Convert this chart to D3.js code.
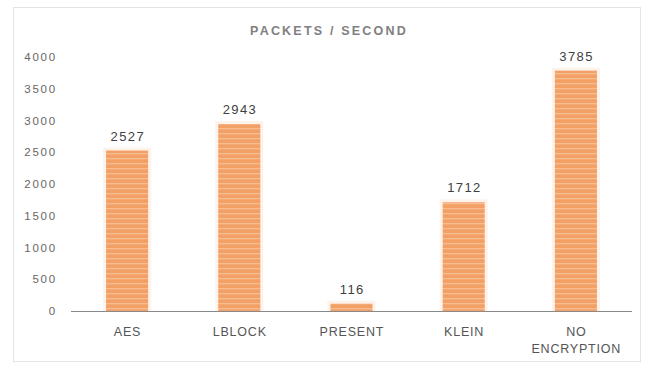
<!DOCTYPE html>
<html><head><meta charset="utf-8">
<script src="https://cdn.jsdelivr.net/npm/d3@7"></script>
<style>body{margin:0;background:#fff}svg{display:block}</style>
</head><body>
<script>
const categories = ["AES", "LBLOCK", "PRESENT", "KLEIN", "NO ENCRYPTION"];
const values = [2527, 2943, 116, 1712, 3785];
const yTicks = [0, 500, 1000, 1500, 2000, 2500, 3000, 3500, 4000];
const title = "PACKETS / SECOND";

const W = 652, H = 365;
const FONT = "Liberation Sans, Arial, sans-serif";
const svg = d3.select("body").append("svg").attr("width", W).attr("height", H);
const defs = svg.append("defs");
const pat = defs.append("pattern").attr("id", "stripes").attr("patternUnits", "userSpaceOnUse")
  .attr("width", 8).attr("height", 5);
pat.append("rect").attr("width", 8).attr("height", 5).attr("fill", "#F3A066");
pat.append("rect").attr("y", 3).attr("width", 8).attr("height", 1.3).attr("fill", "#F7BD92");

svg.append("rect").attr("x", 13.5).attr("y", 7.5).attr("width", 627).attr("height", 354)
  .attr("fill", "#fff").attr("stroke", "#e3e3e3");

const x = d3.scaleBand().domain(categories).range([71, 632]).paddingInner(0.625).paddingOuter(0.3125);
const y = d3.scaleLinear().domain([0, 4000]).range([311, 57]);

svg.append("text").attr("x", 329).attr("y", 35).attr("text-anchor", "middle")
  .attr("font-family", FONT).attr("font-size", 12.5).attr("font-weight", "bold")
  .attr("letter-spacing", 2.2).attr("fill", "#808080").text(title);

const yAxis = svg.append("g").attr("transform", "translate(57,0)")
  .call(d3.axisLeft(y).tickValues(yTicks).tickSize(0).tickPadding(0).tickFormat(d3.format("d")));
yAxis.select(".domain").remove();
yAxis.selectAll("text").attr("font-family", FONT).attr("font-size", 11.5)
  .attr("letter-spacing", 1.8).attr("fill", "#666666");

// halo
svg.append("g").selectAll("rect").data(values).join("rect")
  .attr("x", (d, i) => x(categories[i]) - 3).attr("y", d => y(d) - 3)
  .attr("width", x.bandwidth() + 6).attr("height", d => y(0) - y(d) + 3)
  .attr("fill", "#FDEBDD").attr("opacity", 0.6);

svg.append("g").selectAll("rect").data(values).join("rect")
  .attr("x", (d, i) => x(categories[i])).attr("y", d => y(d))
  .attr("width", x.bandwidth()).attr("height", d => y(0) - y(d))
  .attr("fill", "url(#stripes)");

svg.append("line").attr("x1", 71).attr("x2", 632).attr("y1", y(0) + 0.5).attr("y2", y(0) + 0.5)
  .attr("stroke", "#8a8a8a").attr("stroke-width", 1);

svg.append("g").selectAll("text").data(values).join("text")
  .attr("x", (d, i) => x(categories[i]) + x.bandwidth() / 2 + 0.7).attr("y", d => y(d) - 10)
  .attr("text-anchor", "middle").attr("font-family", FONT)
  .attr("font-size", 13).attr("letter-spacing", 1.4).attr("fill", "#404040").text(d => d);

const xAxis = svg.append("g").attr("transform", `translate(0,${y(0)})`)
  .call(d3.axisBottom(x).tickSize(0).tickPadding(0));
xAxis.select(".domain").remove();
xAxis.selectAll("text").remove();
xAxis.selectAll(".tick").each(function(d) {
  const words = d === "NO ENCRYPTION" ? ["NO", "ENCRYPTION"] : [d];
  const t = d3.select(this).append("text").attr("text-anchor", "middle")
    .attr("font-family", FONT).attr("font-size", 12.5).attr("letter-spacing", 0.8).attr("fill", "#555");
  words.forEach((w, i) => t.append("tspan").attr("x", 0.4).attr("y", 25 + i * 17).text(w));
});
</script>
</body></html>
